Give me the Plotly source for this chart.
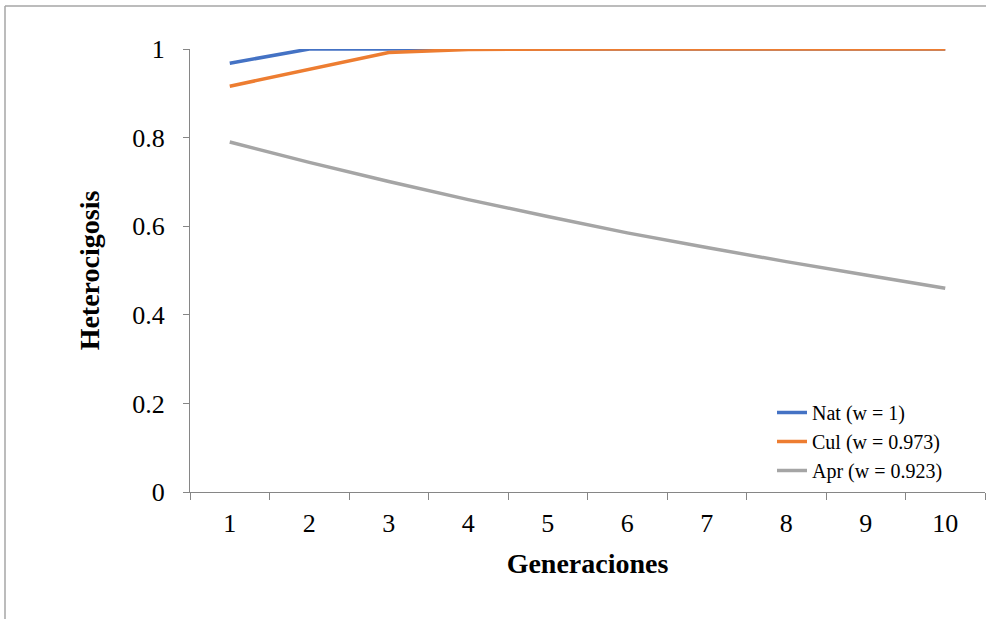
import plotly.graph_objects as go

generations = ["1", "2", "3", "4", "5", "6", "7", "8", "9", "10"]
nat = [0.968, 1.0, 1.0, 1.0, 1.0, 1.0, 1.0, 1.0, 1.0, 1.0]
cul = [0.916, 0.953, 0.992, 0.999, 1.0, 1.0, 1.0, 1.0, 1.0, 1.0]
apr = [0.790, 0.744, 0.701, 0.660, 0.622, 0.585, 0.552, 0.520, 0.490, 0.460]
series_names = ["Nat (w = 1)", "Cul (w = 0.973)", "Apr (w = 0.923)"]
colors = ["#4472C4", "#ED7D31", "#A5A5A5"]

FONT = "Liberation Serif, Times New Roman, serif"

fig = go.Figure()
for name, vals, col in zip(series_names, [nat, cul, apr], colors):
    fig.add_trace(go.Scatter(x=generations, y=vals, mode="lines", name=name,
                             line=dict(color=col, width=3.5)))

W, H = 986, 619
L, R, T, B = 190, 1, 49, 127
pw, ph = W - L - R, H - T - B

def px_x(p):
    return (p - L) / pw

def px_y(p):
    return (H - B - p) / ph

frame = "#A6A6A6"
fig.add_shape(type="line", xref="paper", yref="paper",
              x0=px_x(5), x1=px_x(986), y0=px_y(6), y1=px_y(6),
              line=dict(color=frame, width=1.5))
fig.add_shape(type="line", xref="paper", yref="paper",
              x0=px_x(5), x1=px_x(5), y0=px_y(6), y1=px_y(619),
              line=dict(color=frame, width=1.5))

fig.update_layout(
    width=W, height=H,
    margin=dict(l=L, r=R, t=T, b=B, pad=0),
    paper_bgcolor="white", plot_bgcolor="white",
    font=dict(family=FONT, color="black", size=26),
    showlegend=True,
    legend=dict(x=px_x(772), y=px_y(393), xanchor="left", yanchor="top",
                font=dict(family=FONT, size=20, color="black"),
                bgcolor="rgba(0,0,0,0)", itemwidth=30, tracegroupgap=0),
    xaxis=dict(type="category", range=[-0.5, 9.5], tickson="boundaries",
               ticks="outside", ticklen=7,
               tickcolor="#868686", showline=True, linecolor="#868686", linewidth=1,
               showgrid=False, zeroline=False, tickfont=dict(size=26),
               ticklabelstandoff=8,
               title=dict(text="<b>Generaciones</b>", font=dict(size=28), standoff=16)),
    yaxis=dict(range=[0, 1], tickvals=[0, 0.2, 0.4, 0.6, 0.8, 1],
               ticktext=["0", "0.2", "0.4", "0.6", "0.8", "1"],
               ticks="outside", ticklen=6, tickcolor="#868686",
               showline=True, linecolor="#868686", linewidth=1,
               showgrid=False, zeroline=False, tickfont=dict(size=26),
               ticklabelstandoff=13,
               title=dict(text="<b>Heterocigosis</b>", font=dict(size=28), standoff=24)),
)

fig.write_html("out.html")
